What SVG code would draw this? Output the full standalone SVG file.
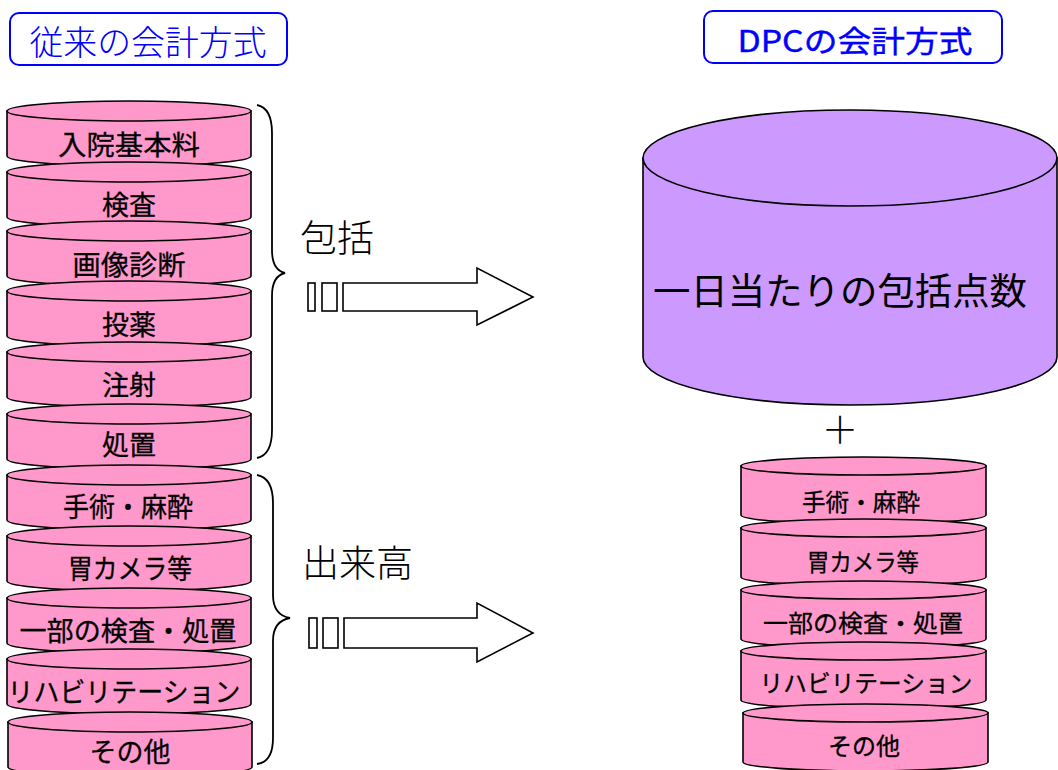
<svg xmlns="http://www.w3.org/2000/svg" width="1058" height="770" viewBox="0 0 1058 770">
<style>
.pink{fill:#FF99CC;stroke:#000;stroke-width:1.6}
.purple{fill:#CC99FF;stroke:#000;stroke-width:1.6}
.lbl{font-family:"Noto Sans CJK JP","Liberation Sans",sans-serif;font-size:27px;fill:#000;text-anchor:middle;stroke:#000;stroke-width:0.3}
.rlbl{font-family:"Noto Sans CJK JP","Liberation Sans",sans-serif;font-size:24px;fill:#000;text-anchor:middle;stroke:#000;stroke-width:0.3}
.big{font-family:"Noto Sans CJK JP",sans-serif;font-size:37px;fill:#000;text-anchor:middle}
.thin{font-family:"Noto Sans CJK JP",sans-serif;font-weight:300;font-size:37px;fill:#000}
.title{fill:#fff;stroke:#0000FF;stroke-width:2}
.ttxt{font-family:"Noto Sans CJK JP",sans-serif;fill:#0000FF;text-anchor:middle}
.brace{fill:none;stroke:#000;stroke-width:1.8}
.arr{fill:#fff;stroke:#000;stroke-width:1.6}
</style>
<defs>
<g id="cylL">
<path class="pink" d="M0,0 L0,45 A122,10 0 0 0 244,45 L244,0 Z"/>
<ellipse class="pink" cx="122" cy="0" rx="122" ry="10"/>
</g>
<g id="cylR">
<path class="pink" d="M0,0 L0,49 A122.5,9 0 0 0 245,49 L245,0 Z"/>
<ellipse class="pink" cx="122.5" cy="0" rx="122.5" ry="9"/>
</g>
</defs>

<g id="title-left">
<rect class="title" x="10" y="13" width="277" height="52" rx="9"/>
<text class="ttxt" x="148" y="55" font-size="34" font-weight="300" textLength="237" lengthAdjust="spacingAndGlyphs">従来の会計方式</text>
</g>
<g id="title-right">
<rect class="title" x="704" y="11" width="298" height="52" rx="9"/>
<text class="ttxt" x="855" y="52" font-size="30" stroke="#0000FF" stroke-width="0.4" font-family="'Liberation Sans','Noto Sans CJK JP',sans-serif" textLength="235" lengthAdjust="spacingAndGlyphs">DPCの会計方式</text>
</g>

<g id="left-stack">
<g id="l1"><use href="#cylL" x="7" y="111"/><text class="lbl" x="129" y="155" textLength="142" lengthAdjust="spacingAndGlyphs">入院基本料</text></g>
<g id="l2"><use href="#cylL" x="7" y="172"/><text class="lbl" x="129" y="215">検査</text></g>
<g id="l3"><use href="#cylL" x="7" y="231"/><text class="lbl" x="129" y="275" textLength="113" lengthAdjust="spacingAndGlyphs">画像診断</text></g>
<g id="l4"><use href="#cylL" x="7" y="291"/><text class="lbl" x="129" y="335">投薬</text></g>
<g id="l5"><use href="#cylL" x="7" y="352"/><text class="lbl" x="129" y="395">注射</text></g>
<g id="l6"><use href="#cylL" x="7" y="414"/><text class="lbl" x="129" y="455">処置</text></g>
<g id="l7"><use href="#cylL" x="7" y="475"/><text class="lbl" x="128" y="517" textLength="130" lengthAdjust="spacingAndGlyphs">手術・麻酔</text></g>
<g id="l8"><use href="#cylL" x="7" y="536"/><text class="lbl" x="130" y="579" textLength="124" lengthAdjust="spacingAndGlyphs">胃カメラ等</text></g>
<g id="l9"><use href="#cylL" x="7" y="598"/><text class="lbl" x="128" y="641" textLength="217" lengthAdjust="spacingAndGlyphs">一部の検査・処置</text></g>
<g id="l10"><use href="#cylL" x="7" y="659"/><text class="lbl" x="124" y="702" textLength="233" lengthAdjust="spacingAndGlyphs">リハビリテーション</text></g>
<g id="l11"><use href="#cylL" x="8" y="722"/><text class="lbl" x="130" y="762">その他</text></g>
</g>

<g id="label-houkatsu"><text class="thin" x="300" y="252">包括</text></g>
<g id="label-dekidaka"><text class="thin" x="302" y="577">出来高</text></g>

<g id="big-cylinder">
<path class="purple" d="M643,158 L643,357 A207,48 0 0 0 1057,357 L1057,158 Z"/>
<ellipse class="purple" cx="850" cy="158" rx="207" ry="48"/>
<text class="big" x="840" y="305" textLength="374" lengthAdjust="spacingAndGlyphs">一日当たりの包括点数</text>
</g>

<g id="plus"><text class="thin" x="840" y="444" font-size="36" text-anchor="middle">＋</text></g>

<g id="right-stack">
<g id="r1"><use href="#cylR" x="741" y="466"/><text class="rlbl" x="861" y="511" textLength="118" lengthAdjust="spacingAndGlyphs">手術・麻酔</text></g>
<g id="r2"><use href="#cylR" x="741" y="528"/><text class="rlbl" x="863" y="571" textLength="112" lengthAdjust="spacingAndGlyphs">胃カメラ等</text></g>
<g id="r3"><use href="#cylR" x="741" y="590"/><text class="rlbl" x="863" y="632" textLength="200" lengthAdjust="spacingAndGlyphs">一部の検査・処置</text></g>
<g id="r4"><use href="#cylR" x="741" y="651"/><text class="rlbl" x="866" y="692" textLength="213" lengthAdjust="spacingAndGlyphs">リハビリテーション</text></g>
<g id="r5"><use href="#cylR" x="743" y="713"/><text class="rlbl" x="864" y="755">その他</text></g>
</g>

<g id="connectors">
<path class="brace" d="M257,105 Q272,108 272,133 L272,250 Q272,270 285,273 Q272,276 272,296 L272,430 Q272,455 257,458"/>
<path class="brace" d="M257,475 Q273,478 273,503 L273,595 Q273,615 290,618 Q273,621 273,641 L273,738 Q273,762 257,764"/>
<rect class="arr" x="308" y="283" width="7" height="28"/>
<rect class="arr" x="322" y="283" width="15" height="28"/>
<polygon class="arr" points="343,283 477,283 477,268 533,297 477,325 477,311 343,311"/>
<rect class="arr" x="309" y="618" width="8" height="30"/>
<rect class="arr" x="323" y="618" width="15" height="30"/>
<polygon class="arr" points="344,618 477,618 477,603 533,633 477,662 477,648 344,648"/>
</g>
</svg>
